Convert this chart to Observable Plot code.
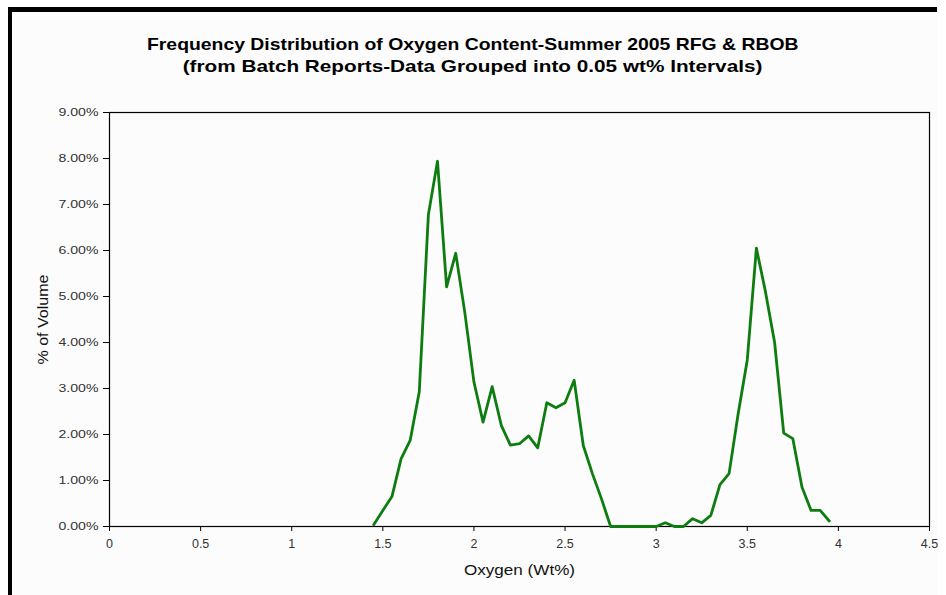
<!DOCTYPE html>
<html>
<head>
<meta charset="utf-8">
<script src="https://cdn.jsdelivr.net/npm/d3@7"></script>
<script src="https://cdn.jsdelivr.net/npm/@observablehq/plot@0.6"></script>
<style>
  html, body { margin: 0; padding: 0; background: #ffffff; }
  #wrap { position: relative; width: 946px; height: 595px; overflow: hidden; background: #ffffff; font-family: "Liberation Sans", Arial, sans-serif; }
  #panel { position: absolute; left: 12px; top: 12px; right: 9px; bottom: 0; background: #fcfcfc; }
  #bandTop { position: absolute; left: 8px; top: 7px; width: 929px; height: 5px; background: #000; }
  #bandLeft { position: absolute; left: 8px; top: 7px; width: 4px; height: 588px; background: #000; }
  #chart { position: absolute; left: 0; top: 0; }
  .title { position: absolute; left: 0; width: 946px; text-align: center; font-weight: bold; font-size: 17px; color: #000; white-space: nowrap; transform-origin: 475px 0; }
</style>
</head>
<body>
<div id="wrap">
  <div id="panel"></div>
  <div id="bandTop"></div>
  <div id="bandLeft"></div>
  <div id="chart"></div>
  <div class="title" id="t1" style="top:35px; transform: scaleX(1.14);">Frequency Distribution of Oxygen Content-Summer 2005 RFG &amp; RBOB</div>
  <div class="title" id="t2" style="top:57px; transform: scaleX(1.22);">(from Batch Reports-Data Grouped into 0.05 wt% Intervals)</div>
</div>
<script>
// Oxygen content (wt%), grouped in 0.05 intervals
const oxygen = [1.45, 1.50, 1.55, 1.60, 1.65, 1.70, 1.75, 1.80, 1.85, 1.90, 1.95, 2.00,
  2.05, 2.10, 2.15, 2.20, 2.25, 2.30, 2.35, 2.40, 2.45, 2.50, 2.55, 2.60, 2.65, 2.70, 2.75,
  2.80, 2.85, 2.90, 2.95, 3.00, 3.05, 3.10, 3.15, 3.20, 3.25, 3.30, 3.35, 3.40, 3.45, 3.50,
  3.55, 3.60, 3.65, 3.70, 3.75, 3.80, 3.85, 3.90, 3.95];
// % of volume
const pctVolume = [0.04, 0.35, 0.65, 1.47, 1.87, 2.93, 6.78, 7.94, 5.21, 5.94, 4.65, 3.14,
  2.27, 3.04, 2.20, 1.77, 1.80, 1.97, 1.71, 2.69, 2.58, 2.69, 3.18, 1.76, 1.15, 0.60, 0.00,
  0.00, 0.00, 0.00, 0.00, 0.00, 0.08, 0.00, 0.00, 0.17, 0.08, 0.24, 0.91, 1.15, 2.45, 3.62,
  6.05, 5.10, 4.00, 2.03, 1.91, 0.86, 0.35, 0.35, 0.12];
const xTicks = [0, 0.5, 1, 1.5, 2, 2.5, 3, 3.5, 4, 4.5];
const yTicks = [0, 1, 2, 3, 4, 5, 6, 7, 8, 9];

const rows = oxygen.map((x, i) => ({x, y: pctVolume[i]}));

const chart = Plot.plot({
  width: 946,
  height: 595,
  marginLeft: 109,
  marginRight: 17,
  marginTop: 112,
  marginBottom: 69,
  style: { background: "transparent", fontFamily: "Liberation Sans, Arial, sans-serif", fontSize: "12px", color: "#000" },
  x: { domain: [0, 4.5] },
  y: { domain: [0, 9] },
  marks: [
    Plot.frame({ stroke: "#000", strokeWidth: 1.2 }),
    Plot.axisX({ ticks: xTicks, tickFormat: d => String(d), tickSize: 5, tickPadding: 8, stroke: "#000", fill: "#333", label: "Oxygen (Wt%)", labelAnchor: "center", labelArrow: "none", labelOffset: 48 }),
    Plot.axisY({ ticks: yTicks, tickFormat: d => d.toFixed(2) + "%", tickSize: 6, tickPadding: 5, stroke: "#000", fill: "#333", label: "% of Volume", labelAnchor: "center", labelArrow: "none", labelOffset: 72 }),
    Plot.line(rows, { x: "x", y: "y", stroke: "#0e7d10", strokeWidth: 2.8, strokeLinejoin: "round" })
  ]
});
document.getElementById("chart").appendChild(chart);

// tune text widths to match the horizontally-stretched reference rendering
const svg = d3.select(chart);
svg.selectAll("[aria-label='y-axis tick label'] text").attr("textLength", 40).attr("lengthAdjust", "spacingAndGlyphs").style("font-size", "11.5px");
svg.selectAll("[aria-label='x-axis tick label'] text").style("font-size", "12.5px");
svg.selectAll("[aria-label='x-axis label'] text").style("font-size", "14.5px").attr("textLength", 111).attr("lengthAdjust", "spacingAndGlyphs").attr("fill", "#111");
svg.selectAll("[aria-label='y-axis label'] text").style("font-size", "14.5px").attr("textLength", 90).attr("lengthAdjust", "spacingAndGlyphs").attr("fill", "#111");
</script>
</body>
</html>
